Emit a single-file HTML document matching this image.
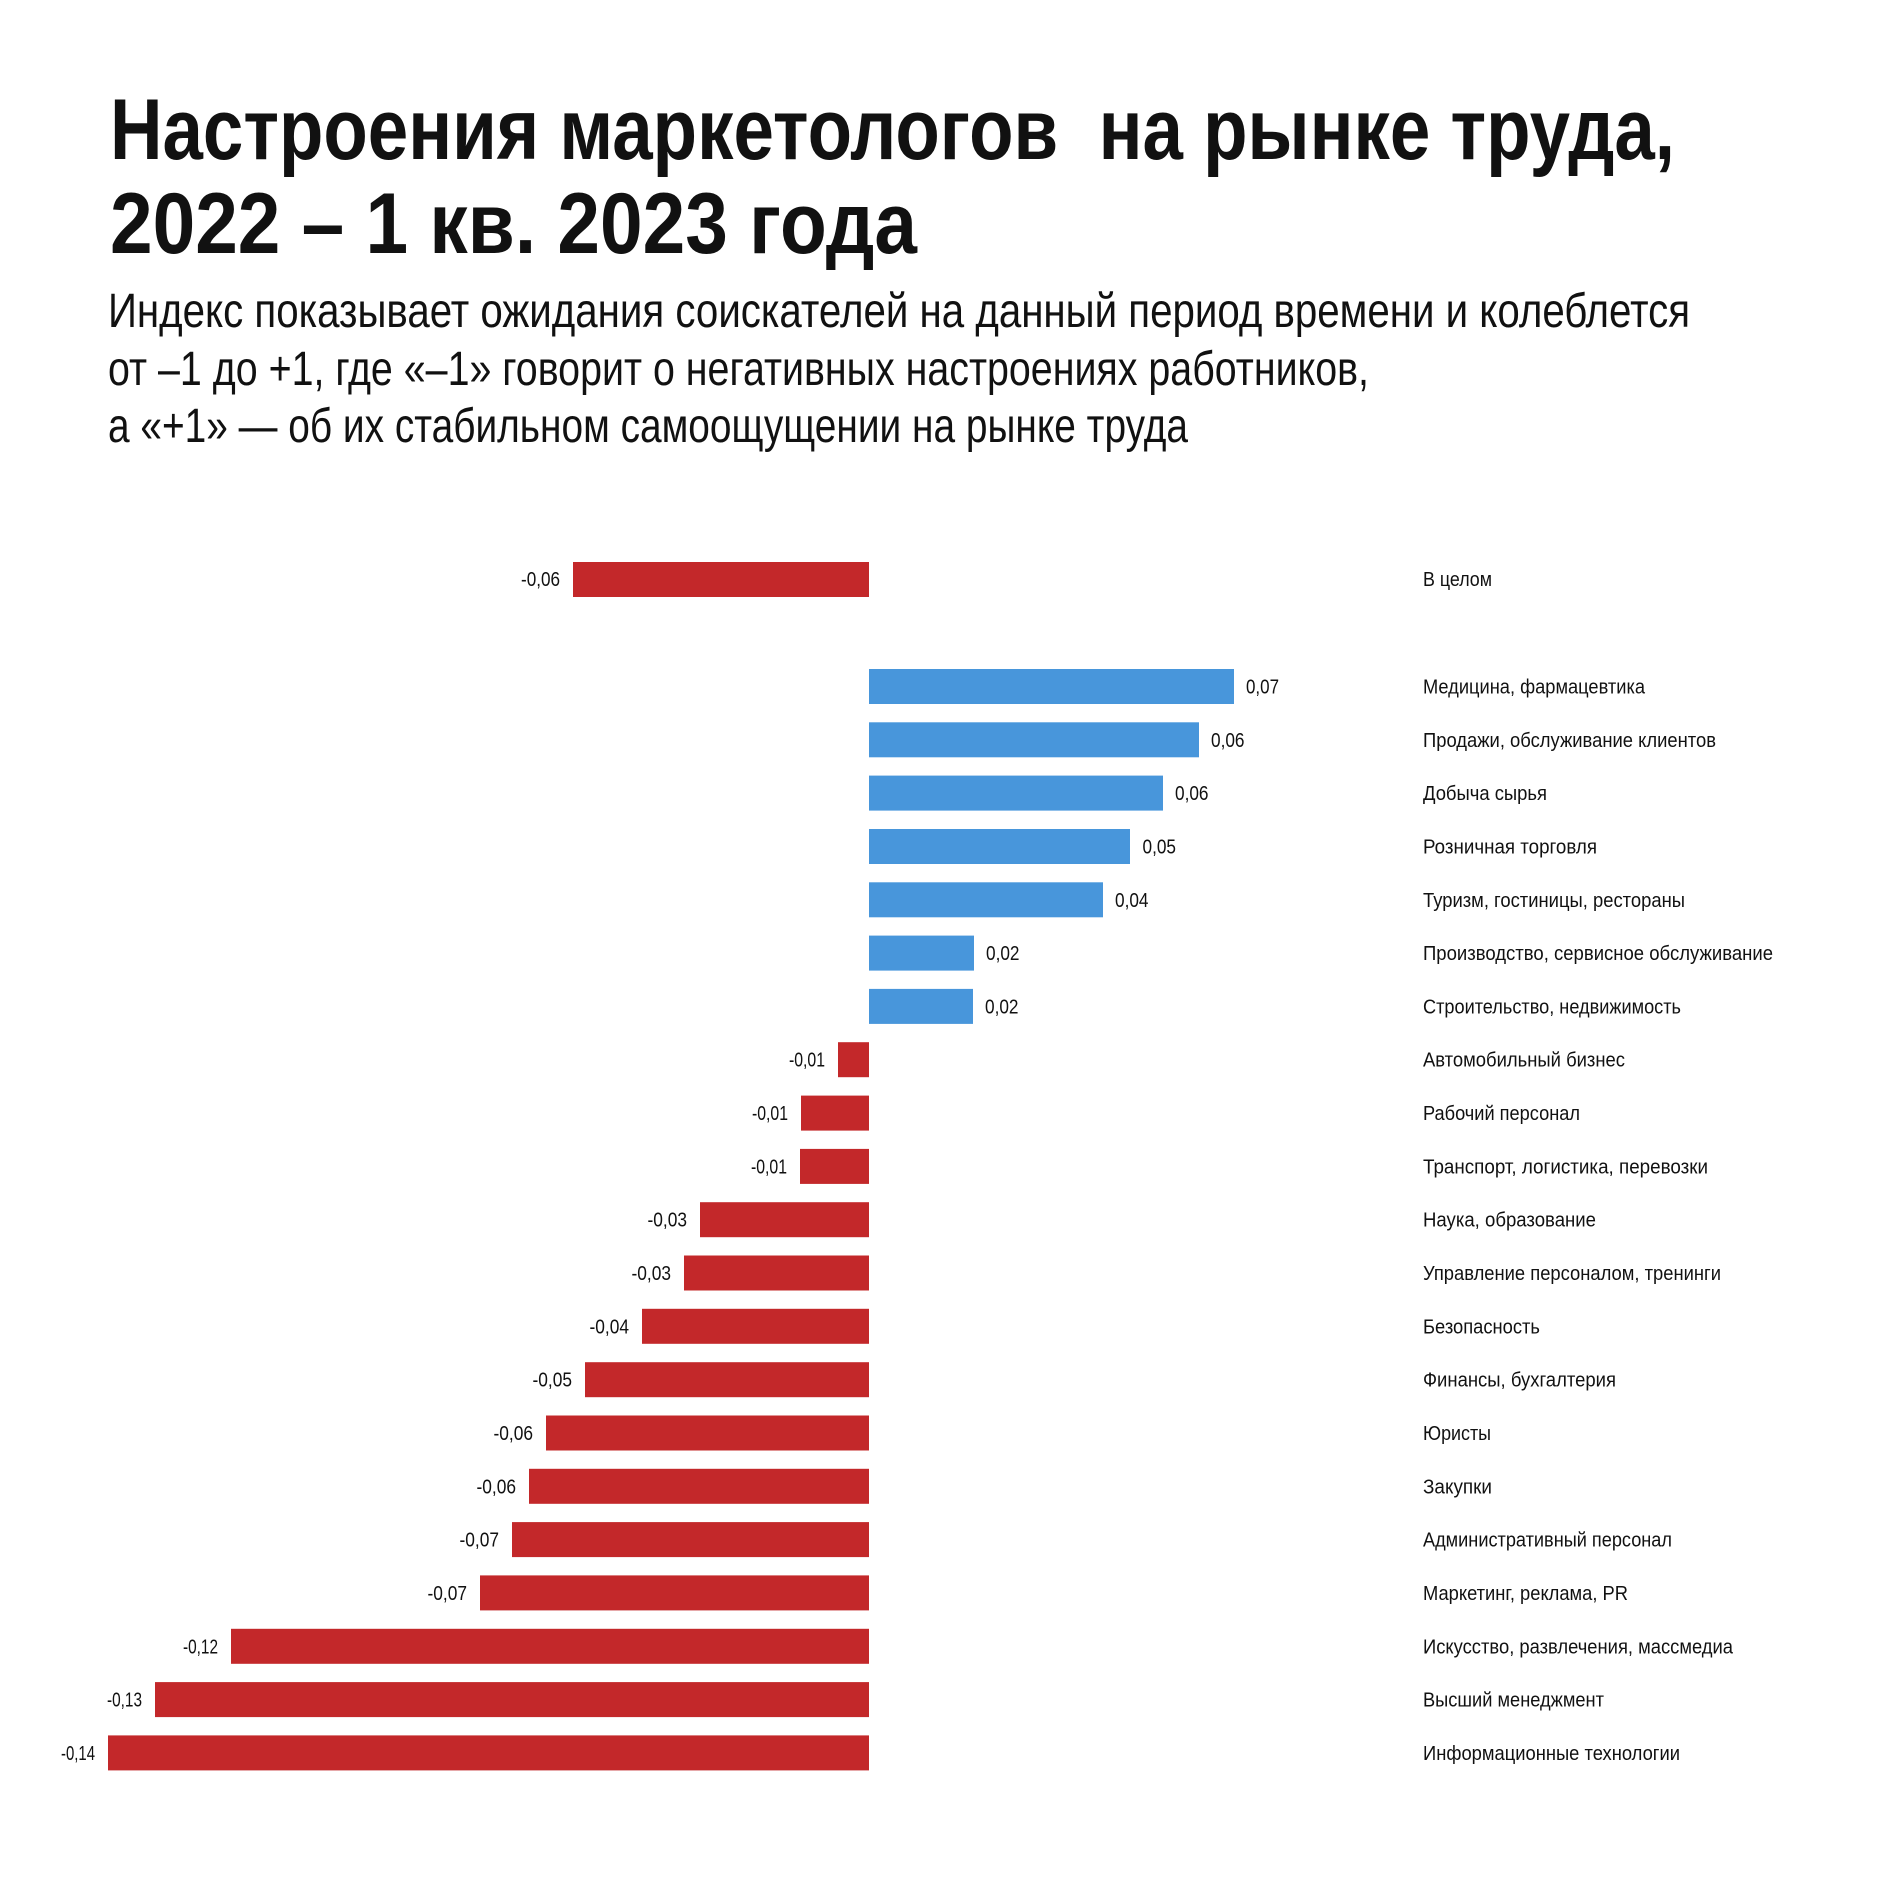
<!DOCTYPE html>
<html>
<head>
<meta charset="utf-8">
<style>
  html, body { margin: 0; padding: 0; background: #ffffff; }
  svg { display: block; }
  text { font-family: "Liberation Sans", "Noto Sans CJK SC", sans-serif; fill: #111111; }
  .t { font-weight: bold; font-size: 86px; white-space: pre; }
  .s { font-size: 48px; }
  .v { font-size: 20.5px; }
  .c { font-size: 20.5px; }
  .r { fill: #C3282A; }
  .b { fill: #4896DB; }
</style>
</head>
<body>
<svg width="1892" height="1890" viewBox="0 0 1892 1890" xmlns="http://www.w3.org/2000/svg">
  <rect x="0" y="0" width="1892" height="1890" fill="#ffffff"/>

  <!-- Title -->
  <text class="t" x="110" y="159" textLength="1565" lengthAdjust="spacingAndGlyphs" xml:space="preserve">Настроения маркетологов  на рынке труда,</text>
  <text class="t" x="110" y="253" textLength="807" lengthAdjust="spacingAndGlyphs">2022 – 1 кв. 2023 года</text>

  <!-- Subtitle -->
  <text class="s" x="108" y="327" textLength="1582" lengthAdjust="spacingAndGlyphs">Индекс показывает ожидания соискателей на данный период времени и колеблется</text>
  <text class="s" x="108" y="385" textLength="1261" lengthAdjust="spacingAndGlyphs">от –1 до +1, где «–1» говорит о негативных настроениях работников,</text>
  <text class="s" x="108" y="442" textLength="1080" lengthAdjust="spacingAndGlyphs">а «+1» — об их стабильном самоощущении на рынке труда</text>

  <!-- В целом -->
  <rect class="r" x="573" y="562" width="296" height="35"/>
  <text class="v" x="560" y="586" text-anchor="end" textLength="39" lengthAdjust="spacingAndGlyphs">-0,06</text>
  <text class="c" x="1423" y="586" textLength="69" lengthAdjust="spacingAndGlyphs">В целом</text>

  <!-- Positive bars -->
  <rect class="b" x="869" y="669.0" width="365" height="35"/>
  <text class="v" x="1246" y="693.5" textLength="33" lengthAdjust="spacingAndGlyphs">0,07</text>
  <text class="c" x="1423" y="693.5" textLength="222" lengthAdjust="spacingAndGlyphs">Медицина, фармацевтика</text>

  <rect class="b" x="869" y="722.3" width="330" height="35"/>
  <text class="v" x="1211" y="746.8" textLength="33.5" lengthAdjust="spacingAndGlyphs">0,06</text>
  <text class="c" x="1423" y="746.8" textLength="293" lengthAdjust="spacingAndGlyphs">Продажи, обслуживание клиентов</text>

  <rect class="b" x="869" y="775.6" width="294" height="35"/>
  <text class="v" x="1175" y="800.1" textLength="33.5" lengthAdjust="spacingAndGlyphs">0,06</text>
  <text class="c" x="1423" y="800.1" textLength="124" lengthAdjust="spacingAndGlyphs">Добыча сырья</text>

  <rect class="b" x="869" y="829.0" width="261" height="35"/>
  <text class="v" x="1142.5" y="853.5" textLength="33.5" lengthAdjust="spacingAndGlyphs">0,05</text>
  <text class="c" x="1423" y="853.5" textLength="174" lengthAdjust="spacingAndGlyphs">Розничная торговля</text>

  <rect class="b" x="869" y="882.3" width="234" height="35"/>
  <text class="v" x="1115" y="906.8" textLength="33.5" lengthAdjust="spacingAndGlyphs">0,04</text>
  <text class="c" x="1423" y="906.8" textLength="262" lengthAdjust="spacingAndGlyphs">Туризм, гостиницы, рестораны</text>

  <rect class="b" x="869" y="935.6" width="105" height="35"/>
  <text class="v" x="986" y="960.1" textLength="33.5" lengthAdjust="spacingAndGlyphs">0,02</text>
  <text class="c" x="1423" y="960.1" textLength="350" lengthAdjust="spacingAndGlyphs">Производство, сервисное обслуживание</text>

  <rect class="b" x="869" y="988.9" width="104" height="35"/>
  <text class="v" x="985" y="1013.4" textLength="33.5" lengthAdjust="spacingAndGlyphs">0,02</text>
  <text class="c" x="1423" y="1013.4" textLength="258" lengthAdjust="spacingAndGlyphs">Строительство, недвижимость</text>

  <!-- Negative bars -->
  <rect class="r" x="838" y="1042.2" width="31" height="35"/>
  <text class="v" x="825" y="1066.7" text-anchor="end" textLength="36" lengthAdjust="spacingAndGlyphs">-0,01</text>
  <text class="c" x="1423" y="1066.7" textLength="202" lengthAdjust="spacingAndGlyphs">Автомобильный бизнес</text>

  <rect class="r" x="801" y="1095.6" width="68" height="35"/>
  <text class="v" x="788" y="1120.1" text-anchor="end" textLength="36" lengthAdjust="spacingAndGlyphs">-0,01</text>
  <text class="c" x="1423" y="1120.1" textLength="157" lengthAdjust="spacingAndGlyphs">Рабочий персонал</text>

  <rect class="r" x="800" y="1148.9" width="69" height="35"/>
  <text class="v" x="787" y="1173.4" text-anchor="end" textLength="36" lengthAdjust="spacingAndGlyphs">-0,01</text>
  <text class="c" x="1423" y="1173.4" textLength="285" lengthAdjust="spacingAndGlyphs">Транспорт, логистика, перевозки</text>

  <rect class="r" x="700" y="1202.2" width="169" height="35"/>
  <text class="v" x="687" y="1226.7" text-anchor="end" textLength="39.5" lengthAdjust="spacingAndGlyphs">-0,03</text>
  <text class="c" x="1423" y="1226.7" textLength="173" lengthAdjust="spacingAndGlyphs">Наука, образование</text>

  <rect class="r" x="684" y="1255.5" width="185" height="35"/>
  <text class="v" x="671" y="1280.0" text-anchor="end" textLength="39.5" lengthAdjust="spacingAndGlyphs">-0,03</text>
  <text class="c" x="1423" y="1280.0" textLength="298" lengthAdjust="spacingAndGlyphs">Управление персоналом, тренинги</text>

  <rect class="r" x="642" y="1308.8" width="227" height="35"/>
  <text class="v" x="629" y="1333.3" text-anchor="end" textLength="39.5" lengthAdjust="spacingAndGlyphs">-0,04</text>
  <text class="c" x="1423" y="1333.3" textLength="117" lengthAdjust="spacingAndGlyphs">Безопасность</text>

  <rect class="r" x="585" y="1362.2" width="284" height="35"/>
  <text class="v" x="572" y="1386.7" text-anchor="end" textLength="39.5" lengthAdjust="spacingAndGlyphs">-0,05</text>
  <text class="c" x="1423" y="1386.7" textLength="193" lengthAdjust="spacingAndGlyphs">Финансы, бухгалтерия</text>

  <rect class="r" x="546" y="1415.5" width="323" height="35"/>
  <text class="v" x="533" y="1440.0" text-anchor="end" textLength="39.5" lengthAdjust="spacingAndGlyphs">-0,06</text>
  <text class="c" x="1423" y="1440.0" textLength="68" lengthAdjust="spacingAndGlyphs">Юристы</text>

  <rect class="r" x="529" y="1468.8" width="340" height="35"/>
  <text class="v" x="516" y="1493.3" text-anchor="end" textLength="39.5" lengthAdjust="spacingAndGlyphs">-0,06</text>
  <text class="c" x="1423" y="1493.3" textLength="69" lengthAdjust="spacingAndGlyphs">Закупки</text>

  <rect class="r" x="512" y="1522.1" width="357" height="35"/>
  <text class="v" x="499" y="1546.6" text-anchor="end" textLength="39.5" lengthAdjust="spacingAndGlyphs">-0,07</text>
  <text class="c" x="1423" y="1546.6" textLength="249" lengthAdjust="spacingAndGlyphs">Административный персонал</text>

  <rect class="r" x="480" y="1575.4" width="389" height="35"/>
  <text class="v" x="467" y="1599.9" text-anchor="end" textLength="39.5" lengthAdjust="spacingAndGlyphs">-0,07</text>
  <text class="c" x="1423" y="1599.9" textLength="205" lengthAdjust="spacingAndGlyphs">Маркетинг, реклама, PR</text>

  <rect class="r" x="231" y="1628.8" width="638" height="35"/>
  <text class="v" x="218" y="1653.3" text-anchor="end" textLength="35" lengthAdjust="spacingAndGlyphs">-0,12</text>
  <text class="c" x="1423" y="1653.3" textLength="310" lengthAdjust="spacingAndGlyphs">Искусство, развлечения, массмедиа</text>

  <rect class="r" x="155" y="1682.1" width="714" height="35"/>
  <text class="v" x="142" y="1706.6" text-anchor="end" textLength="35" lengthAdjust="spacingAndGlyphs">-0,13</text>
  <text class="c" x="1423" y="1706.6" textLength="181" lengthAdjust="spacingAndGlyphs">Высший менеджмент</text>

  <rect class="r" x="108" y="1735.4" width="761" height="35"/>
  <text class="v" x="95" y="1759.9" text-anchor="end" textLength="34" lengthAdjust="spacingAndGlyphs">-0,14</text>
  <text class="c" x="1423" y="1759.9" textLength="257" lengthAdjust="spacingAndGlyphs">Информационные технологии</text>
</svg>
</body>
</html>
